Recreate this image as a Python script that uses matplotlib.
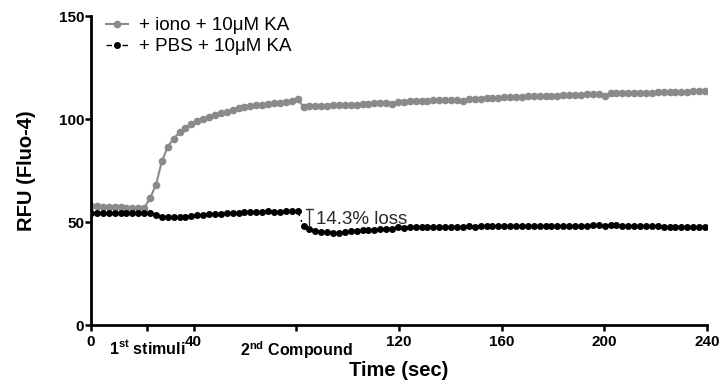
import numpy as np
import matplotlib
matplotlib.use("Agg")
import matplotlib.pyplot as plt

plt.rcParams['font.family'] = ['Liberation Sans', 'DejaVu Sans']
plt.rcParams['mathtext.fontset'] = 'custom'
plt.rcParams['mathtext.rm'] = 'Liberation Sans:bold'
plt.rcParams['mathtext.bf'] = 'Liberation Sans:bold'
plt.rcParams['mathtext.default'] = 'bf'

# sampling interval of the plate reader (sec)
dt = 2.3
n_pts = 105
time = np.arange(n_pts) * dt

iono = [
    57.8, 57.7, 57.5, 57.4, 57.2, 57.1, 56.9, 56.8, 56.6, 56.8,
    61.5, 68.0, 79.5, 86.5, 90.5, 93.5, 95.8, 97.8, 99.0, 100.0,
    101.0, 101.9, 102.8, 103.6, 104.6, 105.2, 105.6, 106.1, 106.6, 106.9,
    107.4, 107.6, 108.0, 108.4, 108.8, 109.8, 105.8, 106.3, 106.4, 106.5,
    106.5, 106.6, 106.7, 106.8, 106.9, 107.0, 107.2, 107.5, 107.7, 107.6,
    108.0, 107.5, 108.4, 108.5, 108.6, 108.7, 108.8, 108.9, 109.0, 109.1,
    109.2, 109.3, 109.4, 108.9, 109.8, 109.9, 109.8, 110.1, 110.2, 110.4,
    110.5, 110.6, 110.6, 110.9, 111.1, 111.2, 111.2, 111.3, 111.4, 111.4,
    111.6, 111.6, 111.7, 111.8, 111.9, 112.0, 112.1, 111.4, 112.4, 112.5,
    112.5, 112.6, 112.6, 112.7, 112.8, 112.8, 112.9, 113.0, 113.1, 113.1,
    113.2, 113.3, 113.4, 113.5, 113.7,
]

pbs = [
    54.3, 54.6, 54.5, 54.4, 54.6, 54.5, 54.4, 54.3, 54.2, 54.5,
    54.6, 53.6, 52.4, 52.3, 52.4, 52.5, 52.6, 52.8, 53.2, 53.4,
    53.7, 53.9, 54.1, 54.3, 54.4, 54.6, 54.7, 54.8, 54.9, 55.0,
    55.3, 55.1, 55.0, 55.2, 55.3, 55.3, 47.9, 46.4, 45.6, 45.3,
    45.0, 44.8, 44.9, 45.1, 45.4, 45.7, 46.0, 46.2, 46.1, 46.6,
    46.8, 46.5, 47.4, 47.3, 47.5, 47.6, 47.5, 47.6, 47.7, 47.6,
    47.7, 47.8, 47.7, 47.8, 47.9, 47.8, 47.9, 48.0, 47.9, 48.0,
    48.1, 48.0, 48.2, 48.1, 48.2, 48.1, 48.2, 48.0, 48.1, 48.2,
    48.1, 48.0, 48.2, 48.3, 48.2, 48.4, 48.5, 48.3, 48.6, 48.4,
    48.2, 48.1, 48.0, 48.1, 48.0, 47.9, 48.0, 47.8, 47.7, 47.5,
    47.4, 47.6, 47.5, 47.4, 47.5,
]

labels = ['+ iono + 10\u03bcM KA', '+ PBS + 10\u03bcM KA']
major_ticks = [0, 40, 120, 160, 200, 240]
event_ticks = [22, 80]
event_labels = [r'1$^{st}$ stimuli', r'2$^{nd}$ Compound']
loss_text = '14.3% loss'

fig = plt.figure(figsize=(7.21, 3.83), dpi=100)
ax = fig.add_axes([0.1262, 0.1514, 0.8544, 0.8068])

grey = '#8a8a8a'
ax.plot(time, iono, color=grey, lw=1.5, marker='o', ms=4.5,
        mec=grey, mfc=grey, label=labels[0])
ax.plot(time, pbs, color='black', lw=1.0, dashes=(4, 3, 1.5, 3), marker='o',
        ms=4, mec='black', mfc='black', label=labels[1])

# loss bracket at the 2nd compound addition
i_drop = 37
y_top = max(pbs[30:36]) + 0.8
y_bot = np.mean(pbs[60:])
xb = time[i_drop]
ax.plot([xb, xb], [y_bot, y_top], color='#333333', lw=1.0)
ax.plot([xb - 1.5, xb + 1.5], [y_top, y_top], color='#333333', lw=1.0)
ax.text(xb + 2.6, (y_top + y_bot) / 2 - 0.8, loss_text, fontsize=13.5,
        color='#2a2a2a', va='center', ha='left')

ax.set_xlim(0, 240)
ax.set_ylim(0, 150)
ax.set_yticks([0, 50, 100, 150])
ax.set_xticks(major_ticks)
ax.set_xticks(event_ticks, minor=True)
ax.set_xticklabels(event_labels, minor=True)

for s in ['top', 'right']:
    ax.spines[s].set_visible(False)
for s in ['left', 'bottom']:
    ax.spines[s].set_linewidth(2)

ax.tick_params(axis='both', which='both', width=1.8, length=4.5, direction='out')
ax.tick_params(axis='y', pad=0.5, labelsize=11)
ax.tick_params(axis='x', which='major', pad=2.5, labelsize=11)
ax.tick_params(axis='x', which='minor', pad=5.5, labelsize=11.5)
for lab in ax.get_xticklabels(which='both') + ax.get_yticklabels():
    lab.set_fontweight('bold')

ax.set_xlabel('Time (sec)', fontsize=14.5, fontweight='bold', labelpad=0)
ax.set_ylabel('RFU (Fluo-4)', fontsize=14.5, fontweight='bold', labelpad=16)

ax.legend(loc='upper left', bbox_to_anchor=(0.013, 1.02), frameon=False,
          fontsize=13.5, handlelength=1.15, handletextpad=0.6,
          borderaxespad=0, labelspacing=0.2)

fig.savefig('out.png', dpi=100)
